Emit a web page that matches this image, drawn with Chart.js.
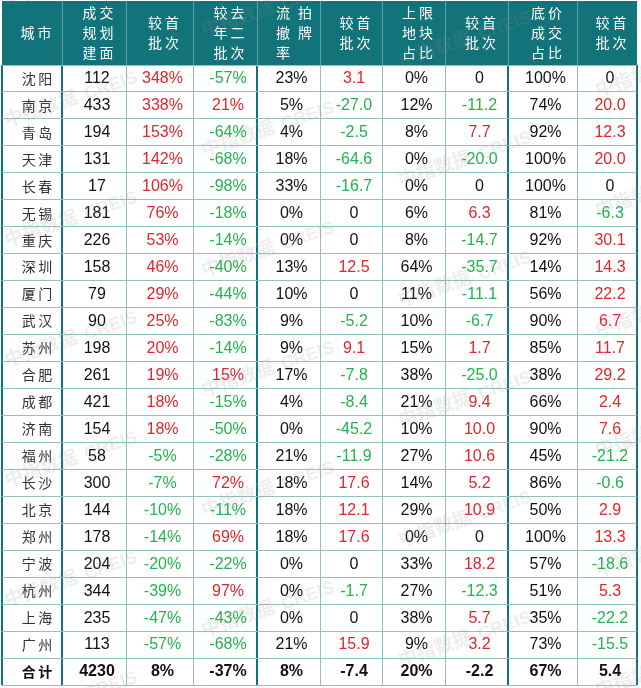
<!DOCTYPE html>
<html>
<head>
<meta charset="utf-8">
<script src="https://cdn.jsdelivr.net/npm/chart.js@4/dist/chart.umd.min.js"></script>
<style>
html,body{margin:0;padding:0;background:#fff;}
#wrap{width:641px;height:688px;}
</style>
</head>
<body>
<div id="wrap"><canvas id="tabela" width="641" height="688"></canvas></div>
<script>

// dados
const cidades=['沈阳','南京','青岛','天津','长春','无锡','重庆','深圳','厦门','武汉','苏州','合肥','成都','济南','福州','长沙','北京','郑州','宁波','杭州','上海','广州','合计'];

const cabecalhos=[['城市'],['成交','规划','建面'],['较首','批次'],['较去','年二','批次'],['流拍','撤牌','率'],['较首','批次'],['上限','地块','占比'],['较首','批次'],['底价','成交','占比'],['较首','批次']];

const area=[112,433,194,131,17,181,226,158,79,90,198,261,421,154,58,300,144,178,204,344,235,113,4230];
const vsPrimeiro=[348,338,153,142,106,76,53,46,29,25,20,19,18,18,-5,-7,-10,-14,-20,-39,-47,-57,8];
const vsAnoPassado=[-57,21,-64,-68,-98,-18,-14,-40,-44,-83,-14,15,-15,-50,-28,72,-11,69,-22,97,-43,-68,-37];
const taxaFalha=[23,5,4,18,33,0,0,13,10,9,9,17,4,0,21,18,18,18,0,0,0,21,8];
const taxaFalhaVar=[3.1,-27.0,-2.5,-64.6,-16.7,0,0,12.5,0,-5.2,9.1,-7.8,-8.4,-45.2,-11.9,17.6,12.1,17.6,0,-1.7,0,15.9,-7.4];
const tetoParte=[0,12,8,0,0,6,8,64,11,10,15,38,21,10,27,14,29,0,33,27,38,9,20];
const tetoVar=[0,-11.2,7.7,-20.0,0,6.3,-14.7,-35.7,-11.1,-6.7,1.7,-25.0,9.4,10.0,10.6,5.2,10.9,0,18.2,-12.3,5.7,3.2,-2.2];
const pisoParte=[100,74,92,100,100,81,92,14,56,90,85,38,66,90,45,86,50,100,57,51,35,73,67];
const pisoVar=[0,20.0,12.3,20.0,0,-6.3,30.1,14.3,22.2,6.7,11.7,29.2,2.4,7.6,-21.2,-0.6,2.9,13.3,-18.6,5.3,-22.2,-15.5,5.4];

///////////////////////////////////////////////////////////////

// layout
const larguras=[60,64,67,64,63,62,63,63,69,60];
const bordas=[0];
larguras.forEach(w=>bordas.push(bordas[bordas.length-1]+w));
const centros=larguras.map((w,i)=>bordas[i]+w/2);
const bordasFortes=[0,60,255,506,635];

const VERMELHO='#E0262D';
const VERDE='#25B24E';
const TEAL='#12747A';
const LINHA='#94BFC0';

// colunas: valores + formato
const colunas=[
    {vals:cidades,fmt:'texto'},
    {vals:area,fmt:'int'},
    {vals:vsPrimeiro,fmt:'pct',cor:true},
    {vals:vsAnoPassado,fmt:'pct',cor:true},
    {vals:taxaFalha,fmt:'pct'},
    {vals:taxaFalhaVar,fmt:'dec',cor:true},
    {vals:tetoParte,fmt:'pct'},
    {vals:tetoVar,fmt:'dec',cor:true},
    {vals:pisoParte,fmt:'pct'},
    {vals:pisoVar,fmt:'dec',cor:true}
];

function formatar(v,fmt){
    if(fmt==='pct') return v+'%';
    if(fmt==='dec') return v===0?'0':v.toFixed(1);
    return String(v);
}

function corDe(v,col,total){
    if(total||!col.cor) return '#111';
    if(v>0) return VERMELHO;
    if(v<0) return VERDE;
    return '#111';
}

///////////////////////////////////////////////////////////////

const pluginTabela={

    id:'tabela',

    afterDraw(chart){

        const c=chart.ctx;
        const area=chart.chartArea;
        const x=chart.scales.x;

        // cabecalho
        c.save();
        c.fillStyle=TEAL;
        c.fillRect(area.left,1,area.right-area.left,area.top-1);

        c.strokeStyle='#5E9FA3';
        c.lineWidth=1;
        bordas.slice(1,-1).forEach(b=>{
            const px=Math.round(x.getPixelForValue(b))+0.5;
            c.beginPath();
            c.moveTo(px,1);
            c.lineTo(px,area.top);
            c.stroke();
        });

        c.fillStyle='#fff';
        c.font='14px "Noto Sans CJK SC"';
        c.textAlign='center';
        c.textBaseline='middle';
        const meio=(1+area.top)/2;
        cabecalhos.forEach((linhas,i)=>{
            const cx=x.getPixelForValue(centros[i])+4+(i===4?1.5:0);
            const passo=(i===4)?22:17;
            linhas.forEach((l,k)=>{
                const cy=meio+(k-(linhas.length-1)/2)*20;
                const chars=[...l];
                chars.forEach((ch,m)=>{
                    c.fillText(ch,cx+(m-0.5)*passo,cy);
                });
            });
        });

        // marca d'agua
        c.fillStyle='rgba(140,140,140,0.16)';
        c.textAlign='left';
        c.textBaseline='alphabetic';
        for(let col=0;col<4;col++){
            for(let r=-1;r<6;r++){
                const ox=7+197*col;
                const oy=127+30*col+120*r;
                c.save();
                c.translate(ox,oy);
                c.rotate(-0.33);
                c.font='bold 19px "Noto Sans CJK SC"';
                c.fillText('中指数据',0,0);
                c.font='bold 18px "Liberation Sans"';
                c.fillText('CREIS',84,0);
                c.restore();
            }
        }
        c.restore();

    },

    afterDatasetsDraw(chart){

        const c=chart.ctx;
        c.save();
        c.textBaseline='middle';
        c.textAlign='center';

        chart.data.datasets.forEach((ds,i)=>{
            const meta=chart.getDatasetMeta(i);
            const col=colunas[i];
            meta.data.forEach((pt,j)=>{
                const total=(j===cidades.length-1);
                const v=col.vals[j];
                if(col.fmt==='texto'){
                    c.fillStyle=total?'#111':'#333';
                    c.font=(total?'bold ':'')+'14px "Noto Sans CJK SC"';
                    [...v].forEach((ch,m)=>{
                        c.fillText(ch,pt.x+5+(m-0.5)*16.5,pt.y);
                    });
                }else{
                    c.fillStyle=corDe(v,col,total);
                    c.font=(total?'bold ':'')+'16px "Liberation Sans"';
                    c.fillText(formatar(v,col.fmt),pt.x+3,pt.y+0.5);
                }
            });
        });

        c.restore();

    }

};

///////////////////////////////////////////////////////////////

const ctx=document.getElementById('tabela').getContext('2d');

new Chart(ctx,{

    type:'scatter',

    data:{
        datasets:colunas.map((col,i)=>({
            label:'c'+i,
            data:cidades.map(cid=>({x:centros[i],y:cid})),
            pointRadius:0
        }))
    },

    options:{

        responsive:false,
        animation:false,
        events:[],

        layout:{
            padding:{left:2,right:4,top:65,bottom:3}
        },

        plugins:{
            legend:{display:false},
            tooltip:{enabled:false}
        },

        scales:{

            x:{
                type:'linear',
                min:0,
                max:bordas[bordas.length-1],
                afterBuildTicks:s=>{
                    s.ticks=bordas.map(v=>({value:v}));
                },
                ticks:{display:false},
                border:{display:false},
                grid:{
                    drawTicks:false,
                    tickLength:0,
                    color:c=>bordasFortes.includes(c.tick&&c.tick.value)?TEAL:LINHA,
                    lineWidth:c=>bordasFortes.includes(c.tick&&c.tick.value)?2:1
                }
            },

            y:{
                type:'category',
                labels:cidades,
                offset:true,
                ticks:{display:false},
                border:{display:false},
                grid:{
                    offset:true,
                    drawTicks:false,
                    tickLength:0,
                    color:c=>c.index===cidades.length?TEAL:LINHA,
                    lineWidth:c=>c.index===cidades.length?2:1
                }
            }

        }

    },

    plugins:[pluginTabela]

});

</script>
</body>
</html>
